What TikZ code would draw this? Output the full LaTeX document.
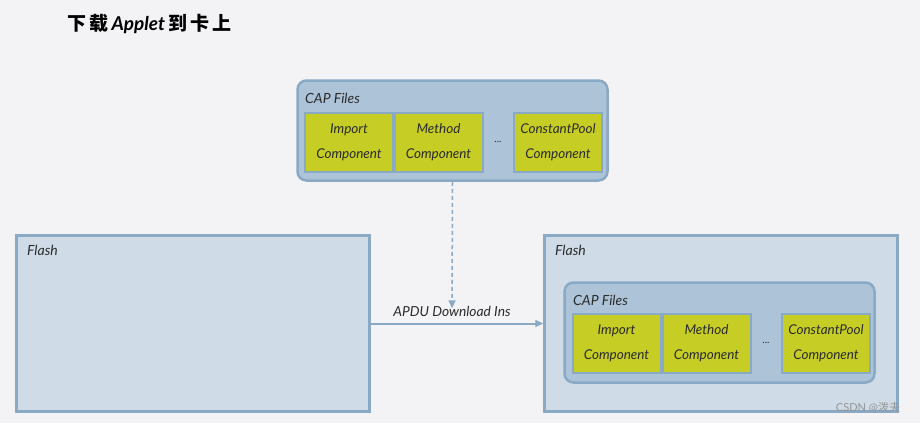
\documentclass[tikz,border=0pt]{standalone}
\usepackage{fontspec}
\setmainfont{Lato}
\newfontfamily\cjk{Noto Sans CJK SC}
\usetikzlibrary{arrows.meta}

\definecolor{bgcolor}{HTML}{F3F3F6}
\definecolor{flashfill}{HTML}{CFDCE7}
\definecolor{capfill}{HTML}{ADC3D7}
\definecolor{compfill}{HTML}{C6CE26}
\definecolor{edgeblue}{HTML}{8AA9C5}
\definecolor{textdark}{HTML}{2B2B2B}

\tikzset{
  >={Triangle[length=8pt,width=7pt]},
  flashbox/.style={draw=edgeblue, line width=2.5pt, fill=flashfill,
    minimum width=353pt, minimum height=176pt, inner sep=0pt},
  capbox/.style={draw=edgeblue, line width=2.5pt, fill=capfill, rounded corners=9pt,
    minimum width=310pt, minimum height=100pt, inner sep=0pt},
  compbox/.style={draw=edgeblue, line width=2pt, fill=compfill, text=textdark,
    minimum width=88pt, minimum height=59pt, inner sep=0pt, align=center,
    font=\itshape\fontsize{13.5}{25}\selectfont},
  boxlabel/.style={anchor=west, inner sep=0pt, text=textdark,
    font=\itshape\fontsize{14}{16}\selectfont},
  link/.style={draw=edgeblue, line width=2pt, ->}
}

\begin{document}
\begin{tikzpicture}[x=1pt,y=-1pt]
  % Background
  \fill[bgcolor] (0,0) rectangle (920,423);
  \useasboundingbox (0,0) rectangle (920,423);

  % Title
  \node[anchor=west, inner sep=0pt, text=black, font=\bfseries\fontsize{19}{23}\selectfont]
    (title) at (67,24) {{\cjk 下\,载}\,\textit{Applet}\,{\cjk 到\,卡\,上}};

  % CAP files to download
  \node[capbox] (capA) at (452.5,130.5) {};
  \node[boxlabel] (capAlabel) at (305,98) {CAP Files};
  \node[compbox] (importA) at (349,142) {Import\\Component};
  \node[compbox] (methodA) at (438.5,142) {Method\\Component};
  \node[text=textdark] (dotsA) at (498,142) {...};
  \node[compbox] (poolA) at (558,142) {ConstantPool\\Component};

  % Flash before
  \node[flashbox] (flashL) at (193,323.5) {};
  \node[boxlabel] (flashLlabel) at (27,250) {Flash};

  % Flash after
  \node[flashbox] (flashR) at (721,323.5) {};
  \node[boxlabel] (flashRlabel) at (555,250) {Flash};
  \node[capbox] (capB) at (719.5,332.5) {};
  \node[boxlabel] (capBlabel) at (573,300) {CAP Files};
  \node[compbox] (importB) at (616.5,343) {Import\\Component};
  \node[compbox] (methodB) at (706.5,343) {Method\\Component};
  \node[text=textdark] (dotsB) at (766,343) {...};
  \node[compbox] (poolB) at (826,343) {ConstantPool\\Component};

  % Download
  \node[text=textdark, font=\itshape\fontsize{13.8}{16}\selectfont] (apdu) at (452,311) {APDU Download Ins};
  \draw[link, line width=1.5pt, dash pattern=on 4pt off 3pt] (capA.south) -- ([yshift=-6pt]apdu.north);
  \draw[link] (flashL.east) -- (flashR.west);

  % Watermark
  \node[text=gray!85, font=\fontsize{11}{13}\selectfont] (mark) at (868,408) {CSDN @{\cjk 泼夫}};
\end{tikzpicture}
\end{document}
